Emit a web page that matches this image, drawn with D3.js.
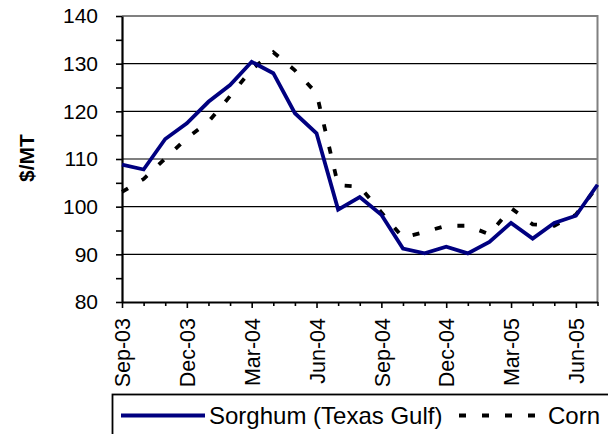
<!DOCTYPE html>
<html>
<head>
<meta charset="utf-8">
<script src="https://cdn.jsdelivr.net/npm/d3@7"></script>
<style>
  body { margin: 0; background: #fff; }
  svg { display: block; font-family: "Liberation Sans", Arial, sans-serif; }
</style>
</head>
<body>
<svg id="chart" width="608" height="434"></svg>
<script>
const months = ["Sep-03","Oct-03","Nov-03","Dec-03","Jan-04","Feb-04","Mar-04","Apr-04","May-04","Jun-04","Jul-04","Aug-04",
    "Sep-04","Oct-04","Nov-04","Dec-04","Jan-05","Feb-05","Mar-05","Apr-05","May-05","Jun-05","Jul-05"];
const sorghum = [108.8,107.8,114.2,117.5,122,125.5,130.4,128,119.6,115.4,99.4,102,
    98.3,91.2,90.2,91.6,90.2,92.6,96.6,93.3,96.6,98.1,104.6];
const corn = [103.1,105.8,110.1,114.4,117.8,123.2,128.8,132.4,128.6,123.8,104.5,104.2,
    98.8,93.5,94.7,96,96,94.2,99.7,96.3,96,98.3,104.3];
const yTicks = [80, 90, 100, 110, 120, 130, 140];
const legendLabels = ["Sorghum (Texas Gulf)", "Corn"];

const plotLeft = 122, plotRight = 597.5, plotTop = 16, plotBottom = 302;

let svg = d3.select('#chart');

let x = d3.scalePoint().domain(months).range([plotLeft, plotRight]);
let y = d3.scaleLinear().domain([80, 140]).range([plotBottom, plotTop]);

// gridlines
svg.append('g')
    .selectAll('line')
    .data(yTicks.filter((d) => d > 80 && d < 140))
    .enter()
    .append('line')
    .attr('x1', plotLeft).attr('x2', plotRight)
    .attr('y1', (d) => y(d)).attr('y2', (d) => y(d))
    .attr('stroke', '#000').attr('stroke-width', 1.2);

// plot border (top + right, grey)
svg.append('path')
    .attr('d', `M${plotLeft},${plotTop}H${plotRight}V${plotBottom}`)
    .attr('fill', 'none').attr('stroke', '#808080').attr('stroke-width', 2);

// y axis with minor ticks
let yAxis = svg.append('g')
    .attr('transform', `translate(${plotLeft},0)`)
    .call(d3.axisLeft(y).tickValues(d3.range(80, 141, 5)).tickSize(6).tickSizeOuter(0)
        .tickFormat((d) => yTicks.includes(d) ? d : ''));
yAxis.select('.domain').attr('stroke-width', 2.2);
yAxis.selectAll('.tick line').attr('stroke-width', 1.6);
yAxis.selectAll('.tick text')
    .attr('x', -24)
    .style('font-size', '21px')
    .style('font-family', '"Liberation Sans", Arial, sans-serif');

// x axis
let xAxis = svg.append('g')
    .attr('transform', `translate(0,${plotBottom})`)
    .call(d3.axisBottom(x).tickSize(4).tickSizeOuter(0)
        .tickFormat((d, i) => i % 3 === 0 ? d : ''));
xAxis.select('.domain').attr('stroke-width', 2.2);
xAxis.selectAll('.tick line')
    .attr('stroke-width', 1.6)
    .attr('y2', (d, i) => i % 3 === 0 ? 6 : 4);
xAxis.selectAll('.tick text')
    .attr('transform', 'rotate(-90)')
    .attr('x', -16)
    .attr('y', 0)
    .attr('dy', '0.36em')
    .attr('text-anchor', 'end')
    .style('font-size', '21.5px')
    .style('font-family', '"Liberation Sans", Arial, sans-serif');

// y title
svg.append('text')
    .attr('transform', 'translate(26,158) rotate(-90)')
    .attr('text-anchor', 'middle')
    .attr('dy', '0.36em')
    .style('font-size', '21px')
    .style('font-weight', 'bold')
    .text('$/MT');

let line = d3.line()
    .x((d, i) => x(months[i]))
    .y((d) => y(d));

svg.append('path')
    .datum(corn)
    .attr('d', line)
    .attr('fill', 'none')
    .attr('stroke', '#000')
    .attr('stroke-width', 3.8)
    .attr('stroke-dasharray', '7,16');

svg.append('path')
    .datum(sorghum)
    .attr('d', line)
    .attr('fill', 'none')
    .attr('stroke', '#000080')
    .attr('stroke-width', 3.8)
    .attr('stroke-linejoin', 'miter');

// legend
let legend = svg.append('g');
legend.append('rect')
    .attr('x', 112.5).attr('y', 394.5)
    .attr('width', 520).attr('height', 80)
    .attr('fill', '#fff').attr('stroke', '#000').attr('stroke-width', 1.8);
legend.append('line')
    .attr('x1', 121).attr('x2', 205).attr('y1', 415.5).attr('y2', 415.5)
    .attr('stroke', '#000080').attr('stroke-width', 3.8);
legend.append('text')
    .attr('x', 209).attr('y', 424)
    .style('font-size', '24px')
    .text(legendLabels[0]);
legend.append('line')
    .attr('x1', 459).attr('x2', 543).attr('y1', 415.5).attr('y2', 415.5)
    .attr('stroke', '#000').attr('stroke-width', 3.8)
    .attr('stroke-dasharray', '7,16');
legend.append('text')
    .attr('x', 548).attr('y', 424)
    .style('font-size', '24px')
    .text(legendLabels[1]);
</script>
</body>
</html>
